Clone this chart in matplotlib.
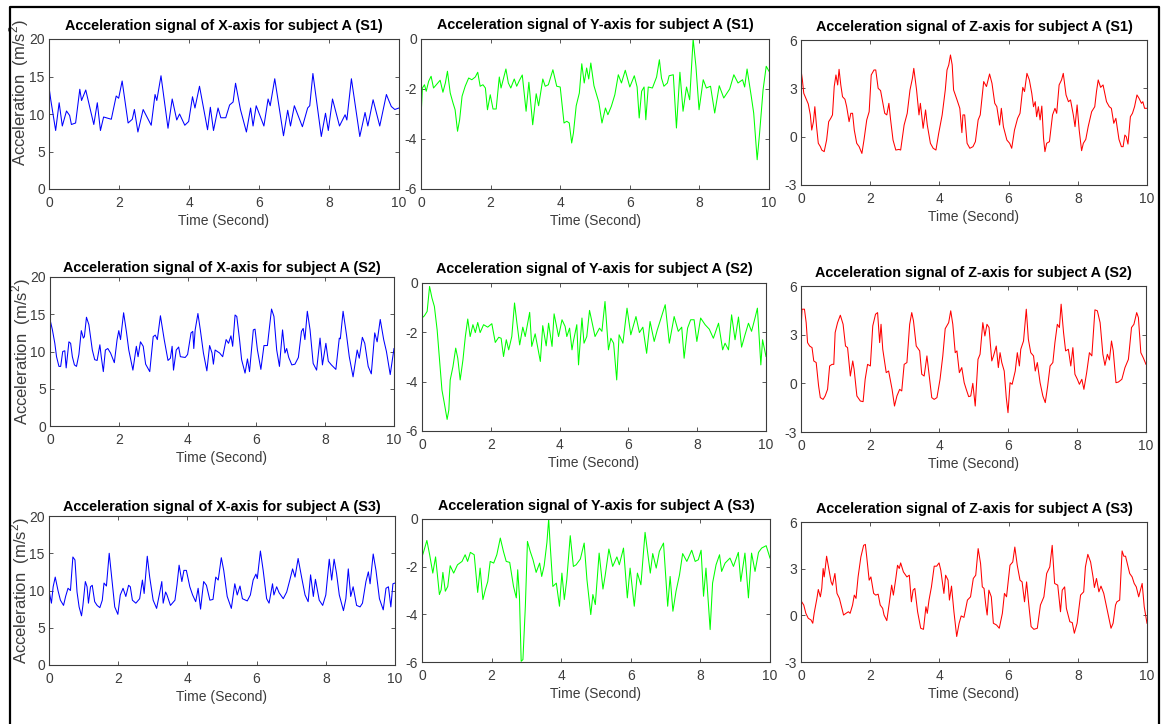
import matplotlib
matplotlib.use("Agg")
import matplotlib.pyplot as plt
from matplotlib import font_manager
from matplotlib.lines import Line2D

# ---------------- data ----------------
# subject A, session 1
t_x1 = [0.00,0.05,0.19,0.29,0.38,0.50,0.59,0.64,0.76,0.88,0.93,1.05,1.28,1.38,1.47,1.56,1.78,1.92,1.99,2.09,
        2.26,2.38,2.44,2.54,2.69,2.92,3.03,3.08,3.20,3.40,3.52,3.65,3.73,3.88,3.99,4.10,4.17,4.30,4.53,4.61,
        4.70,4.83,4.91,5.05,5.16,5.26,5.33,5.47,5.64,5.76,5.83,5.92,6.14,6.26,6.32,6.45,6.70,6.82,6.90,7.01,
        7.24,7.39,7.45,7.54,7.78,7.90,7.98,8.10,8.30,8.46,8.51,8.64,8.88,9.03,9.11,9.26,9.45,9.64,9.70,9.78,
        9.88,10.00]
x1 = [13.6,11.9,7.8,11.5,8.4,10.4,9.8,8.6,8.8,13.3,11.8,13.2,8.6,11.5,7.8,9.6,9.3,12.4,12.1,14.4,
      8.8,9.3,10.6,7.6,10.6,8.5,12.6,11.8,15.1,8.1,12.0,9.2,10.0,8.5,9.0,12.3,10.8,13.7,7.9,10.9,
      7.8,10.8,9.5,9.5,11.2,11.6,14.1,10.6,7.6,10.8,8.4,11.1,8.4,12.0,11.1,14.7,7.1,10.5,8.4,11.1,
      8.3,10.8,11.1,15.4,7.0,10.1,7.8,12.0,8.4,9.9,9.2,14.7,7.0,10.2,8.4,11.9,8.4,12.6,11.9,11.0,
      10.6,10.8]

t_y1 = [0,0.04,0.10,0.15,0.22,0.29,0.36,0.44,0.55,0.63,0.70,0.76,0.84,0.92,0.98,1.05,1.11,1.18,1.27,1.37,
        1.46,1.56,1.63,1.70,1.78,1.85,1.91,1.99,2.07,2.16,2.25,2.30,2.44,2.51,2.58,2.68,2.75,2.83,2.91,3.02,
        3.10,3.21,3.31,3.38,3.50,3.57,3.66,3.79,3.90,4.00,4.11,4.19,4.26,4.33,4.38,4.46,4.55,4.62,4.69,4.76,
        4.82,4.88,4.97,5.11,5.20,5.30,5.37,5.47,5.57,5.67,5.76,5.87,6.00,6.13,6.21,6.27,6.34,6.41,6.46,6.53,
        6.65,6.77,6.85,6.91,6.98,7.08,7.13,7.25,7.34,7.44,7.53,7.63,7.72,7.82,7.90,7.99,8.11,8.20,8.32,8.44,
        8.57,8.70,8.87,8.99,9.11,9.24,9.30,9.37,9.49,9.56,9.66,9.73,9.83,9.92,10.0]
y1 = [-3.16,-1.96,-1.83,-2.09,-1.69,-1.49,-1.96,-1.83,-1.65,-2.13,-1.76,-1.29,-2.16,-2.56,-2.83,-3.69,-3.23,-2.29,-1.89,-1.56,
      -1.63,-1.52,-1.33,-1.89,-1.83,-1.96,-2.83,-2.23,-2.80,-2.80,-1.52,-1.96,-1.20,-1.76,-1.96,-1.60,-1.89,-1.65,-1.44,-2.89,
      -1.73,-3.43,-2.19,-2.67,-1.60,-1.89,-1.83,-1.23,-1.89,-1.92,-3.36,-3.29,-3.36,-4.16,-3.76,-2.67,-2.16,-0.99,-1.76,-1.16,
      -1.60,-0.96,-1.87,-2.53,-3.36,-2.76,-3.03,-2.69,-2.23,-1.43,-1.76,-1.25,-1.92,-1.47,-1.92,-3.16,-2.09,-1.92,-3.23,-1.92,
      -1.96,-1.52,-0.83,-1.56,-1.89,-1.76,-1.47,-1.43,-3.56,-1.33,-2.89,-1.92,-2.43,0.0,-1.09,-2.83,-1.63,-1.96,-1.89,-2.96,
      -1.87,-2.36,-2.00,-1.43,-1.76,-1.63,-1.92,-1.20,-2.29,-2.96,-4.83,-3.76,-2.03,-1.09,-1.29]

t_z1 = [0,0.04,0.08,0.14,0.21,0.27,0.31,0.36,0.40,0.45,0.50,0.56,0.60,0.67,0.74,0.80,0.86,0.91,0.96,1.01,
        1.06,1.10,1.15,1.20,1.27,1.32,1.39,1.44,1.49,1.54,1.61,1.68,1.76,1.82,1.90,1.97,2.03,2.11,2.16,2.23,
        2.30,2.35,2.42,2.48,2.54,2.59,2.66,2.74,2.83,2.88,2.98,3.07,3.15,3.22,3.26,3.34,3.41,3.45,3.53,3.60,
        3.65,3.74,3.82,3.90,3.98,4.08,4.17,4.22,4.27,4.32,4.37,4.41,4.51,4.59,4.65,4.68,4.73,4.80,4.88,4.97,
        5.04,5.12,5.18,5.28,5.36,5.45,5.52,5.60,5.66,5.74,5.79,5.85,5.95,6.03,6.09,6.17,6.26,6.33,6.41,6.46,
        6.53,6.60,6.67,6.72,6.77,6.81,6.86,6.91,6.96,7.01,7.05,7.10,7.18,7.27,7.34,7.39,7.46,7.53,7.58,7.66,
        7.73,7.79,7.87,7.92,7.98,8.04,8.11,8.16,8.23,8.30,8.40,8.49,8.54,8.59,8.66,8.73,8.83,8.91,8.97,9.04,
        9.10,9.19,9.26,9.31,9.36,9.40,9.45,9.52,9.58,9.64,9.71,9.77,9.84,9.88,9.93,10.0]
z1 = [4.14,3.52,2.69,2.38,2.03,1.35,0.41,0.93,1.86,0.62,-0.41,-0.62,-0.83,-0.93,-0.21,0.93,1.14,1.35,3.11,3.83,
      3.21,4.18,3.21,2.48,2.32,1.86,0.93,1.45,1.45,0.41,-0.41,-0.62,-1.04,-0.21,1.04,1.55,3.83,4.14,4.14,3.00,
      2.86,2.28,1.45,1.35,2.07,1.04,-0.21,-0.83,-0.79,-0.83,0.72,1.45,2.90,3.62,4.24,2.90,1.35,2.07,0.52,1.66,
      0.72,-0.41,-0.72,-0.83,0.21,1.35,2.90,4.14,4.45,5.07,4.45,2.90,2.28,1.76,0.25,1.35,1.35,-0.41,-0.72,-0.62,
      -0.31,1.04,1.35,3.42,3.11,3.89,3.31,2.07,1.86,0.72,1.76,0.62,-0.21,-0.41,-0.72,0.41,1.14,1.45,3.06,2.80,
      3.93,3.52,2.69,1.86,2.17,1.24,1.86,1.04,1.90,-0.10,-0.93,-0.41,-0.31,1.35,1.76,1.45,3.21,3.52,3.93,2.59,
      2.17,2.28,1.35,0.62,1.97,0.41,-0.87,-0.41,-0.17,0.62,1.55,1.86,2.80,3.52,3.06,3.21,2.17,1.86,1.76,0.83,
      1.14,-0.17,-0.62,-0.62,0.10,0.00,-0.46,1.24,1.45,1.86,2.59,2.38,2.07,2.17,1.76,1.76]

# subject A, session 2
t_x2 = [0,0.07,0.14,0.19,0.26,0.31,0.37,0.43,0.47,0.55,0.60,0.65,0.71,0.77,0.84,0.91,0.97,1.00,1.06,1.13,
        1.23,1.30,1.37,1.45,1.49,1.55,1.61,1.68,1.76,1.87,1.95,2.00,2.05,2.14,2.22,2.29,2.41,2.51,2.56,2.63,
        2.71,2.78,2.90,3.00,3.06,3.12,3.21,3.32,3.43,3.50,3.55,3.59,3.67,3.74,3.79,3.93,4.00,4.10,4.15,4.18,
        4.22,4.30,4.37,4.46,4.56,4.64,4.71,4.75,4.80,4.93,5.02,5.12,5.19,5.26,5.31,5.38,5.43,5.51,5.57,5.67,
        5.74,5.80,5.91,5.96,6.03,6.13,6.22,6.32,6.44,6.51,6.59,6.67,6.76,6.83,6.88,6.94,7.03,7.12,7.22,7.31,
        7.36,7.41,7.48,7.56,7.65,7.75,7.85,7.92,8.02,8.09,8.18,8.31,8.41,8.44,8.52,8.62,8.70,8.81,8.93,8.99,
        9.08,9.15,9.25,9.34,9.44,9.51,9.60,9.70,9.78,9.89,10.0]
x2 = [14.3,12.9,11.1,9.3,8.0,8.0,10.0,10.1,7.8,11.3,11.1,9.3,8.2,8.0,9.6,12.8,11.8,12.0,14.6,13.6,
      10.2,8.9,8.8,10.9,9.3,7.3,10.2,10.4,9.8,8.5,11.6,12.8,11.6,15.2,12.7,10.2,7.5,10.7,9.3,11.3,
      10.7,8.3,7.3,12.0,12.2,11.6,14.8,11.6,8.8,9.1,10.7,7.5,10.2,10.6,9.3,9.2,9.6,12.5,12.7,10.4,
      12.9,15.1,12.9,9.8,7.4,10.8,9.8,8.3,10.2,9.8,9.3,11.6,11.1,12.1,10.7,14.9,14.7,11.6,8.9,7.1,
      9.0,7.3,12.9,13.0,10.2,7.6,10.8,10.8,15.7,14.7,10.2,8.0,12.9,9.8,10.4,9.2,8.2,8.3,9.2,12.7,
      13.1,11.6,15.4,12.9,8.4,7.5,11.8,8.2,11.1,8.7,8.2,7.6,11.8,11.7,15.4,12.2,9.3,6.6,10.2,9.1,
      11.9,11.1,8.0,7.0,12.5,11.3,14.3,11.6,10.0,6.9,10.4]

t_y2 = [0,0.07,0.15,0.22,0.29,0.36,0.44,0.51,0.58,0.65,0.73,0.78,0.82,0.90,0.98,1.04,1.11,1.19,1.26,1.33,
        1.40,1.48,1.55,1.62,1.69,1.79,1.91,2.03,2.13,2.23,2.30,2.37,2.45,2.52,2.61,2.69,2.76,2.84,2.93,3.00,
        3.13,3.19,3.29,3.44,3.51,3.61,3.68,3.78,3.84,3.97,4.07,4.16,4.21,4.29,4.36,4.40,4.50,4.55,4.65,4.71,
        4.79,4.87,4.99,5.03,5.16,5.23,5.32,5.42,5.49,5.57,5.66,5.73,5.84,5.96,6.07,6.22,6.32,6.42,6.53,6.63,
        6.75,6.84,6.94,7.07,7.19,7.33,7.45,7.55,7.62,7.72,7.81,7.91,7.99,8.10,8.23,8.35,8.47,8.62,8.74,8.81,
        8.91,9.00,9.10,9.20,9.29,9.39,9.49,9.58,9.68,9.75,9.85,9.90,10.0]
y2 = [-1.42,-1.33,-1.15,-0.14,-0.61,-0.95,-1.90,-3.12,-4.34,-4.88,-5.53,-5.15,-3.93,-3.39,-2.64,-3.05,-3.93,-3.12,-2.17,-1.46,
      -2.17,-1.69,-2.01,-1.60,-2.01,-1.69,-1.79,-1.65,-2.41,-2.20,-2.24,-2.98,-2.30,-2.71,-2.17,-0.81,-1.63,-2.51,-1.79,-2.17,
      -1.19,-2.57,-2.06,-3.18,-1.73,-2.55,-1.63,-2.57,-1.25,-2.17,-1.49,-1.76,-2.17,-1.83,-2.71,-2.37,-1.69,-3.32,-1.42,-2.44,
      -2.17,-1.11,-1.90,-2.17,-1.83,-1.96,-0.75,-2.71,-2.24,-2.44,-3.93,-2.10,-2.44,-1.02,-2.10,-1.36,-2.01,-1.79,-2.85,-1.56,
      -2.37,-1.90,-1.46,-0.88,-2.44,-1.36,-1.96,-1.79,-3.05,-1.83,-1.49,-1.49,-2.37,-1.42,-1.69,-1.87,-2.24,-1.63,-2.71,-2.44,
      -2.71,-1.29,-2.30,-1.38,-2.60,-2.10,-1.63,-1.96,-1.42,-1.02,-3.32,-2.30,-2.98]

t_z2 = [0,0.03,0.10,0.15,0.19,0.25,0.32,0.37,0.44,0.51,0.56,0.64,0.70,0.77,0.83,0.90,0.95,0.99,1.06,1.14,
        1.22,1.29,1.35,1.43,1.50,1.54,1.62,1.72,1.80,1.86,1.93,2.01,2.08,2.16,2.22,2.28,2.32,2.37,2.47,2.54,
        2.64,2.71,2.78,2.86,2.92,2.99,3.07,3.15,3.21,3.26,3.34,3.44,3.50,3.57,3.65,3.73,3.79,3.86,3.94,4.03,
        4.11,4.18,4.28,4.34,4.40,4.47,4.52,4.59,4.66,4.73,4.79,4.86,4.92,4.98,5.05,5.13,5.19,5.27,5.33,5.39,
        5.45,5.53,5.58,5.66,5.72,5.77,5.82,5.89,5.95,6.00,6.06,6.12,6.21,6.27,6.33,6.37,6.45,6.53,6.59,6.66,
        6.74,6.79,6.85,6.93,7.01,7.08,7.15,7.22,7.30,7.36,7.43,7.49,7.54,7.61,7.67,7.75,7.82,7.88,7.94,8.01,
        8.07,8.14,8.20,8.28,8.36,8.43,8.52,8.59,8.67,8.75,8.81,8.88,8.94,9.00,9.05,9.13,9.20,9.30,9.39,9.49,
        9.58,9.65,9.73,9.78,9.85,9.92,10.0]
z2 = [3.23,4.57,4.57,3.74,2.51,2.30,2.20,1.38,1.28,-0.16,-0.88,-0.99,-0.78,-0.37,1.07,1.17,1.17,3.13,3.74,4.20,
      3.64,2.30,2.20,0.45,1.38,0.86,-0.78,-1.09,-1.13,0.25,1.17,1.07,3.54,4.26,4.36,2.51,3.64,2.10,0.66,0.76,
      -0.37,-1.40,-0.78,-0.37,-0.47,1.17,1.28,3.64,4.36,3.85,2.30,2.00,0.56,0.45,1.69,0.25,-0.88,-0.99,-0.88,0.25,
      1.69,3.37,3.74,4.47,3.64,1.89,2.00,0.66,0.97,0.04,-0.37,-0.82,-0.78,0.00,-1.40,1.48,1.79,3.74,2.92,3.64,
      3.44,1.38,1.69,2.30,0.97,1.89,1.28,0.76,-0.88,-1.81,0.04,-0.06,0.76,1.89,1.07,2.10,2.61,4.57,2.72,1.89,
      1.69,0.76,1.28,0.04,-0.78,-1.19,-0.16,1.07,1.28,2.51,3.64,3.44,4.88,3.13,2.00,2.10,1.07,2.20,0.56,0.25,
      -0.06,0.25,-0.37,0.66,1.89,1.69,4.53,4.47,3.74,1.79,1.11,1.79,1.44,2.61,2.00,0.04,0.08,0.25,0.97,1.48,
      3.44,3.64,4.36,4.05,1.89,1.58,1.17]

# subject A, session 3
t_x3 = [0,0.07,0.12,0.18,0.26,0.33,0.42,0.48,0.55,0.62,0.69,0.75,0.81,0.87,0.94,0.98,1.05,1.10,1.14,1.20,
        1.25,1.32,1.39,1.47,1.54,1.59,1.66,1.74,1.80,1.90,1.99,2.06,2.14,2.22,2.30,2.35,2.41,2.51,2.62,2.70,
        2.75,2.84,2.91,3.01,3.11,3.20,3.26,3.30,3.37,3.41,3.51,3.64,3.70,3.76,3.80,3.84,3.90,3.97,4.07,4.15,
        4.24,4.31,4.38,4.47,4.55,4.65,4.74,4.82,4.89,4.98,5.05,5.15,5.27,5.37,5.44,5.52,5.59,5.73,5.82,5.90,
        5.98,6.02,6.11,6.19,6.29,6.36,6.46,6.50,6.58,6.65,6.77,6.87,6.96,7.04,7.11,7.20,7.30,7.40,7.49,7.56,
        7.64,7.70,7.81,7.91,8.00,8.10,8.17,8.24,8.31,8.39,8.51,8.58,8.65,8.72,8.79,8.89,8.99,9.06,9.16,9.23,
        9.28,9.37,9.45,9.55,9.66,9.74,9.81,9.88,9.94,10.0]
x3 = [10.0,8.3,10.5,11.8,10.0,8.7,8.0,9.2,10.3,10.0,14.5,14.1,9.8,7.8,6.6,8.0,11.2,10.5,8.3,10.5,
      10.7,8.5,8.0,7.7,8.7,11.0,10.6,15.0,12.3,7.8,6.8,9.4,10.3,9.2,10.7,10.5,8.7,8.3,8.9,11.4,
      9.6,14.6,11.8,8.7,7.6,9.7,11.2,8.3,9.8,9.4,8.0,8.7,10.8,13.4,12.3,11.2,12.7,12.7,10.5,9.4,
      8.5,10.3,7.5,11.2,10.7,8.7,8.8,11.8,11.4,14.4,12.7,9.2,7.6,10.9,9.4,10.6,8.9,8.6,9.4,11.4,
      12.2,11.6,15.3,12.7,8.9,8.3,10.9,9.4,10.5,9.7,8.9,9.8,11.4,12.9,11.8,14.3,11.8,9.4,8.5,12.1,
      9.2,11.5,8.7,8.0,9.4,14.2,11.4,14.2,12.3,9.4,7.3,8.9,12.9,9.2,10.5,8.0,7.8,8.3,11.2,12.5,
      10.9,14.9,12.7,8.9,7.4,10.3,10.5,7.8,10.9,11.0]

t_y3 = [0,0.05,0.14,0.22,0.31,0.39,0.50,0.55,0.60,0.67,0.74,0.81,0.91,1.02,1.15,1.24,1.31,1.39,1.50,1.60,
        1.67,1.75,1.82,1.89,1.96,2.06,2.15,2.25,2.34,2.42,2.52,2.63,2.71,2.75,2.80,2.85,2.90,2.97,3.03,3.11,
        3.19,3.28,3.38,3.44,3.51,3.59,3.64,3.68,3.76,3.86,3.95,4.02,4.09,4.16,4.26,4.35,4.43,4.55,4.66,4.74,
        4.85,4.91,4.98,5.09,5.20,5.26,5.37,5.48,5.60,5.67,5.79,5.90,5.98,6.10,6.19,6.29,6.41,6.48,6.56,6.63,
        6.73,6.82,6.94,7.01,7.06,7.13,7.21,7.30,7.40,7.49,7.61,7.75,7.85,7.94,8.02,8.09,8.16,8.28,8.35,8.45,
        8.55,8.61,8.71,8.85,8.95,9.09,9.16,9.28,9.38,9.47,9.57,9.67,9.76,9.89,10.0]
y3 = [-1.59,-1.36,-0.90,-1.50,-2.27,-1.59,-3.17,-2.97,-2.24,-3.03,-2.83,-1.96,-2.27,-1.92,-1.78,-1.50,-1.78,-1.40,-1.50,-3.08,
      -2.06,-3.38,-2.97,-2.62,-1.78,-1.85,-1.50,-0.80,-1.36,-1.78,-1.82,-2.83,-3.31,-2.13,-3.24,-5.97,-5.90,-3.66,-0.94,-1.36,
      -1.71,-2.24,-1.85,-2.41,-1.96,-0.98,0.00,-1.01,-2.83,-2.69,-3.66,-2.27,-3.38,-2.55,-0.70,-1.99,-1.92,-1.68,-1.01,-2.55,
      -4.01,-3.17,-3.59,-1.43,-2.94,-2.41,-1.26,-1.99,-1.59,-1.92,-1.22,-3.31,-2.06,-3.66,-2.27,-2.76,-0.56,-1.36,-2.27,-1.45,
      -2.06,-1.36,-1.01,-2.55,-3.66,-2.41,-3.87,-3.03,-2.34,-1.45,-1.78,-1.31,-1.78,-1.71,-1.31,-3.24,-2.06,-4.64,-2.69,-1.92,
      -1.50,-2.20,-1.85,-1.64,-1.99,-1.40,-2.62,-1.43,-3.31,-1.43,-2.20,-1.40,-1.22,-1.12,-1.64]

t_z3 = [0,0.08,0.14,0.21,0.29,0.34,0.38,0.46,0.50,0.56,0.60,0.64,0.67,0.70,0.74,0.79,0.87,0.91,0.98,1.04,
        1.11,1.17,1.23,1.30,1.37,1.42,1.49,1.54,1.59,1.65,1.73,1.81,1.86,1.90,1.97,2.02,2.10,2.16,2.23,2.29,
        2.36,2.40,2.48,2.55,2.62,2.67,2.74,2.79,2.84,2.88,2.96,3.06,3.13,3.19,3.24,3.29,3.37,3.46,3.54,3.61,
        3.65,3.70,3.77,3.85,3.92,3.99,4.04,4.13,4.18,4.25,4.29,4.35,4.42,4.50,4.57,4.63,4.71,4.81,4.90,4.98,
        5.05,5.12,5.19,5.24,5.29,5.34,5.38,5.43,5.50,5.56,5.65,5.73,5.82,5.88,5.94,6.04,6.12,6.18,6.25,6.33,
        6.39,6.46,6.52,6.59,6.65,6.73,6.83,6.92,7.02,7.10,7.19,7.26,7.33,7.42,7.50,7.55,7.62,7.67,7.77,7.84,
        7.90,7.98,8.08,8.17,8.22,8.29,8.37,8.44,8.48,8.54,8.61,8.67,8.75,8.83,8.89,8.96,9.02,9.09,9.13,9.21,
        9.28,9.33,9.38,9.42,9.50,9.57,9.63,9.69,9.76,9.86,9.92,10.0]
z3 = [0.94,0.66,0.13,-0.19,-0.30,-0.51,0.13,1.09,1.66,1.19,1.73,3.01,2.47,3.01,3.80,3.16,2.15,1.94,2.69,1.41,
      1.09,0.55,0.02,0.13,0.23,0.13,0.66,1.30,1.09,2.47,3.75,4.50,4.56,3.75,2.26,2.47,1.41,1.30,1.36,0.66,
      0.45,0.02,-0.34,0.77,1.94,1.30,2.37,3.22,3.01,3.37,2.79,2.47,2.58,0.87,1.62,1.73,0.23,-0.83,-0.90,0.55,
      0.13,0.98,1.83,3.16,3.16,3.37,2.90,1.41,2.58,2.26,0.98,1.88,0.23,-1.36,-0.51,-0.04,-0.13,0.98,1.19,2.37,
      2.58,4.29,3.33,1.83,1.73,0.66,0.02,1.62,1.19,-0.51,-0.62,-0.83,0.13,1.41,1.19,3.22,3.43,4.39,3.22,2.26,
      2.15,0.87,2.15,0.55,-0.72,-0.90,-0.83,0.66,1.19,2.69,3.11,4.50,2.05,1.94,0.23,1.62,1.83,0.45,-0.41,-0.47,
      -1.15,-0.51,1.30,1.51,3.11,3.92,3.43,2.47,1.79,2.37,1.51,1.88,1.41,0.55,-0.09,-0.83,-0.51,0.66,0.87,0.98,
      4.14,3.80,3.80,3.43,2.69,2.47,2.05,1.83,1.19,2.05,0.55,-0.51]

sessions = ["S1", "S2", "S3"]
axis_names = ["X", "Y", "Z"]
x_ticks = [0, 2, 4, 6, 8, 10]
y_ticks = {"X": [0, 5, 10, 15, 20], "Y": [-6, -4, -2, 0], "Z": [-3, 0, 3, 6]}
y_lims = {"X": (0, 20), "Y": (-6, 0), "Z": (-3, 6)}
colors = {"X": "#0000ff", "Y": "#00ff00", "Z": "#ff0000"}

series = [[(t_x1, x1), (t_y1, y1), (t_z1, z1)],
          [(t_x2, x2), (t_y2, y2), (t_z2, z2)],
          [(t_x3, x3), (t_y3, y3), (t_z3, z3)]]

# ---------------- layout (pixel boxes of the reference) ----------------
W, H = 1165, 724
# left, top, right, bottom, title baseline
boxes = [[(49, 39, 399, 189, 30), (421, 39, 769, 189, 29), (801, 40, 1147, 185, 31)],
         [(50, 277, 394, 426, 272), (422, 283, 766, 431, 273), (801, 286, 1146, 432, 277)],
         [(49, 516, 395, 665, 511), (422, 519, 770, 662, 510), (801, 522, 1147, 662, 513)]]
ylab_y = [0.645, 0.5, 0.5]

names = {f.name for f in font_manager.fontManager.ttflist}
if "Liberation Sans Narrow" in names:
    narrow, tsize, ksize, lsize = "Liberation Sans Narrow", 12.5, 11, 11
else:
    narrow, tsize, ksize, lsize = "Liberation Sans", 10.4, 10, 10

plt.rcParams["font.family"] = [narrow, "DejaVu Sans"]
plt.rcParams["mathtext.fontset"] = "custom"
plt.rcParams["mathtext.rm"] = "Liberation Sans"
plt.rcParams["axes.unicode_minus"] = False
gray = "#3c3c3c"

fig = plt.figure(figsize=(W / 100, H / 100), dpi=100)

for r in range(3):
    for c in range(3):
        l, t, rr, b, tb = boxes[r][c]
        ax = fig.add_axes([l / W, 1 - b / H, (rr - l) / W, (b - t) / H])
        name = axis_names[c]
        tt, vv = series[r][c]
        ax.plot(tt, vv, color=colors[name], lw=0.75)
        ax.set_xlim(0, 10)
        ax.set_ylim(*y_lims[name])
        ax.set_xticks(x_ticks)
        ax.set_yticks(y_ticks[name])
        ax.tick_params(direction="in", length=3, width=0.6, colors=gray,
                       labelsize=ksize, top=True, right=True)
        ax.tick_params(axis="x", pad=5)
        ax.tick_params(axis="y", pad=3)
        for sp in ax.spines.values():
            sp.set_color(gray)
            sp.set_linewidth(0.8)
        ax.set_title("Acceleration signal of %s-axis for subject A (%s)" % (name, sessions[r]),
                     fontsize=tsize, fontweight="bold", pad=(t - tb) * 0.72)
        ax.set_xlabel("Time (Second)", fontsize=lsize, color=gray, labelpad=3)
        if c == 0:
            ax.set_ylabel("Acceleration  (m/s$^{2}$)", fontsize=12, color=gray,
                          family="Liberation Sans")
            ax.yaxis.set_label_coords(-0.05, ylab_y[r])

# frame around the whole panel
fx = [10 / W, 10 / W, 1159 / W, 1159 / W]
fy = [-0.02, 1 - 7 / H, 1 - 7 / H, -0.02]
fig.add_artist(Line2D(fx, fy, color="black", lw=1.6, transform=fig.transFigure))

fig.savefig("out.png", dpi=100)
